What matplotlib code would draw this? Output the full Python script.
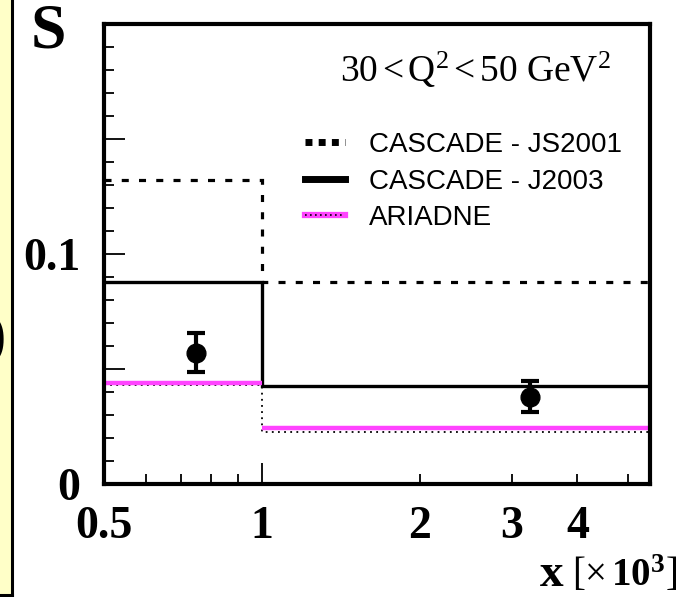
import matplotlib
matplotlib.use("Agg")
import matplotlib.pyplot as plt
from matplotlib.lines import Line2D
from matplotlib.ticker import FixedLocator, NullFormatter, FixedFormatter
import numpy as np

plt.rcParams['mathtext.fontset'] = 'custom'
plt.rcParams['mathtext.rm'] = 'Liberation Serif'
plt.rcParams['mathtext.it'] = 'Liberation Serif:italic'
plt.rcParams['mathtext.bf'] = 'Liberation Serif:bold'

# x bins (in units of 10^-3) and model predictions per bin
bin_edges = [0.5, 1.0, 5.5]
cascade_js2001 = [0.132, 0.088]
cascade_j2003 = [0.088, 0.0425]
ariadne = [0.044, 0.0245]
ariadne_dotted = [0.043, 0.0228]

# measured points
data_x = [0.75, 3.24]
data_y = [0.057, 0.038]
data_err = [0.0085, 0.0068]

x_major = [1]
x_minor = [0.5, 0.6, 0.7, 0.8, 0.9, 2, 3, 4, 5]
x_minor_labels = ['0.5', '', '', '', '', '2', '3', '4', '']

W, H = 684, 597
fig = plt.figure(figsize=(W / 100, H / 100), dpi=100)

# side panel strip on the left
side = fig.add_axes([0, 0.003, 12 / W, 0.997])
side.set_facecolor('#ffffc8')
side.set_xlim(0, 1)
side.set_ylim(0, 1)
side.set_xticks([])
side.set_yticks([])
for s in ['top', 'left']:
    side.spines[s].set_visible(False)
side.spines['right'].set_linewidth(2.2)
side.spines['bottom'].set_linewidth(2.2)
side.text(0.42, 0.43, ')', fontsize=44, fontweight='bold', family='Liberation Serif',
          ha='right', va='center', clip_on=True)

left, right, top, bottom = 104, 650, 24, 484
ax = fig.add_axes([left / W, (H - bottom) / H, (right - left) / W, (bottom - top) / H])
ax.set_xscale('log')
ax.set_xlim(bin_edges[0], bin_edges[-1])
ax.set_ylim(0, 0.2)

ax.stairs(cascade_js2001, bin_edges, baseline=None, color='black', lw=2.3,
          linestyle=(0, (2.2, 3.2)))
ax.stairs(cascade_j2003, bin_edges, baseline=None, color='black', lw=2.4)
ax.hlines(ariadne, bin_edges[:-1], bin_edges[1:], color='#ff44ff', lw=3.2)
ax.stairs(ariadne_dotted, bin_edges, baseline=None, color='black', lw=1.3,
          linestyle=(0, (1, 2.4)))

ax.errorbar(data_x, data_y, yerr=data_err, fmt='o', color='black', ms=13.5,
            elinewidth=3, capsize=6.5, capthick=3)

for s in ax.spines.values():
    s.set_linewidth(3)

ax.xaxis.set_major_locator(FixedLocator(x_major))
ax.xaxis.set_minor_locator(FixedLocator(x_minor))
ax.xaxis.set_major_formatter(FixedFormatter(['1']))
ax.xaxis.set_minor_formatter(FixedFormatter(x_minor_labels))
ax.tick_params(axis='x', which='major', direction='in', length=15, width=1.3, pad=16,
               labelsize=33)
ax.tick_params(axis='x', which='minor', direction='in', length=7.5, width=1.3, pad=16,
               labelsize=33)

ax.yaxis.set_major_locator(FixedLocator([0, 0.05, 0.1, 0.15, 0.2]))
ax.yaxis.set_minor_locator(FixedLocator(np.round(np.arange(0.01, 0.2, 0.01), 2)))
ax.yaxis.set_major_formatter(FixedFormatter(['0', '', '0.1', '', '']))
ax.yaxis.set_minor_formatter(NullFormatter())
ax.tick_params(axis='y', which='major', direction='in', length=15, width=1.3, pad=17,
               labelsize=33)
ax.tick_params(axis='y', which='minor', direction='in', length=7.5, width=1.3)

for lab in ax.get_xticklabels(which='both') + ax.get_yticklabels():
    lab.set_family('Liberation Serif')
    lab.set_fontweight('bold')

ax.text(0.432, 0.874, r'30$\,$<$\,$Q$^{2}$$\,$<$\,$50 GeV$^{2}$', transform=ax.transAxes,
        fontsize=27, family='Liberation Serif', ha='left', va='baseline')

handles = [
    Line2D([], [], color='black', lw=5, linestyle=(0, (1, 0.9))),
    Line2D([], [], color='black', lw=5),
    (Line2D([], [], color='#ff44ff', lw=4.5),
     Line2D([], [], color='black', lw=1.2, linestyle=(0, (1, 2)))),
]
labels = ['CASCADE - JS2001', 'CASCADE - J2003', 'ARIADNE']
ax.legend(handles, labels, loc='upper left', bbox_to_anchor=(0.368, 0.765),
          frameon=False, prop={'family': 'Liberation Sans', 'size': 20},
          handlelength=1.45, handletextpad=0.85, labelspacing=0.38,
          borderpad=0, borderaxespad=0)

fig.text(48 / W, 1 - 33 / H, 'S', fontsize=46, fontweight='bold',
         family='Liberation Serif', ha='center', va='center')

fig.text(563 / W, 1 - 586 / H, 'x', fontsize=34, fontweight='bold',
         family='Liberation Serif', ha='right', va='baseline')
fig.text(677 / W, 1 - 586 / H, r'[$\times\,\mathbf{10}^{\mathbf{3}}$]', fontsize=28,
         family='Liberation Serif', ha='right', va='baseline')

fig.savefig('out.png', dpi=100)
